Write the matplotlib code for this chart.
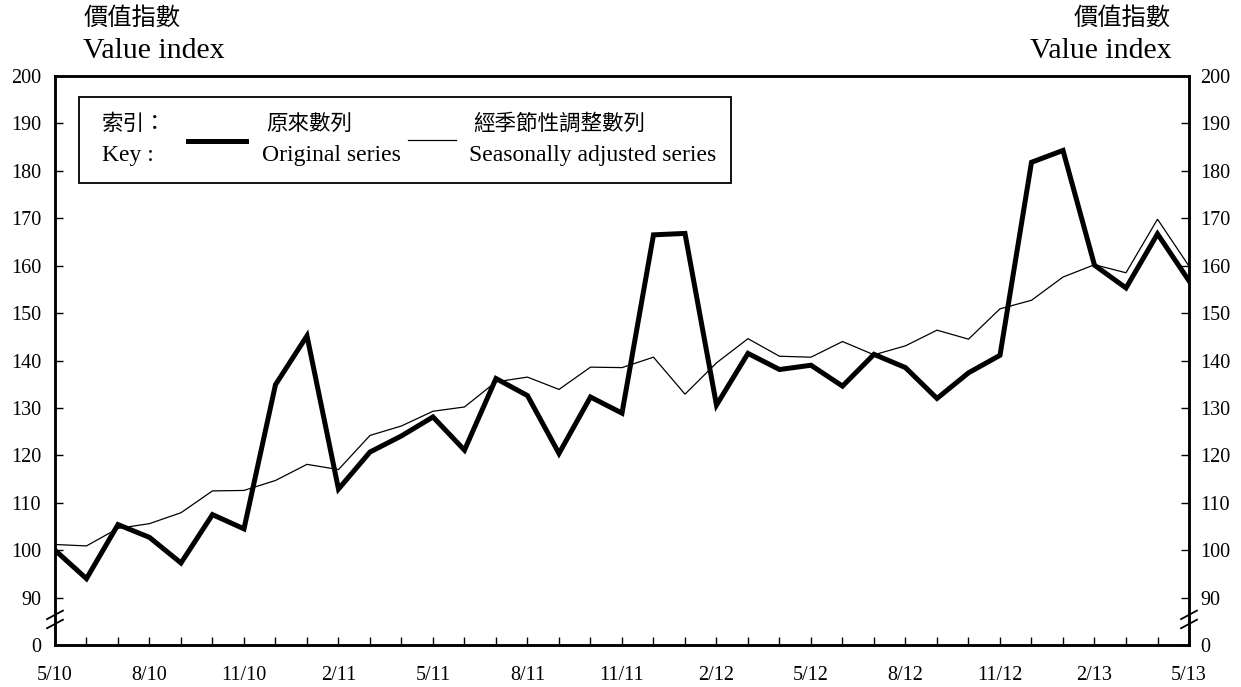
import numpy as np
import matplotlib
matplotlib.use("Agg")
import matplotlib.pyplot as plt
from matplotlib.lines import Line2D
from matplotlib.patches import Rectangle

# data: monthly value index, 5/2010 to 5/2013
months = ["5/10", "6/10", "7/10", "8/10", "9/10", "10/10", "11/10", "12/10", "1/11",
          "2/11", "3/11", "4/11", "5/11", "6/11", "7/11", "8/11", "9/11", "10/11",
          "11/11", "12/11", "1/12", "2/12", "3/12", "4/12", "5/12", "6/12", "7/12",
          "8/12", "9/12", "10/12", "11/12", "12/12", "1/13", "2/13", "3/13", "4/13", "5/13"]
original = [100.0, 94.0, 105.4, 102.7, 97.3, 107.5, 104.5, 134.9, 145.2, 112.9,
            120.7, 124.1, 128.1, 121.1, 136.2, 132.6, 120.4, 132.3, 128.9, 166.5,
            166.8, 130.6, 141.5, 138.1, 139.0, 134.6, 141.3, 138.5, 132.0, 137.4,
            141.1, 181.8, 184.3, 160.1, 155.3, 166.7, 156.8]
adjusted = [101.2, 100.9, 104.6, 105.6, 107.9, 112.5, 112.6, 114.7, 118.1, 117.0,
            124.2, 126.2, 129.3, 130.2, 135.5, 136.5, 133.9, 138.6, 138.5, 140.7,
            132.9, 139.5, 144.6, 140.9, 140.7, 144.0, 141.2, 143.1, 146.4, 144.5,
            150.9, 152.7, 157.6, 160.2, 158.5, 169.8, 159.9]
yticks = [80, 90, 100, 110, 120, 130, 140, 150, 160, 170, 180, 190, 200]
ylabels = ["0", "90", "100", "110", "120", "130", "140", "150", "160", "170", "180", "190", "200"]

serif = ["Liberation Serif", "DejaVu Serif"]
cjk = ["Noto Sans CJK TC", "DejaVu Sans"]

fig = plt.figure(figsize=(12.41, 6.87), dpi=100)
ax = fig.add_axes([0.0443, 0.0611, 0.9138, 0.8283])
x = np.arange(len(months))

ax.plot(x, adjusted, color="black", lw=0.9, solid_joinstyle="miter")
ax.plot(x, original, color="black", lw=3.6, solid_joinstyle="miter")

ax.set_xlim(0, len(months) - 1)
ax.set_ylim(80, 200)
for s in ax.spines.values():
    s.set_linewidth(1.8)

ax.set_xticks(x)
ax.set_xticklabels([m if i % 3 == 0 else "" for i, m in enumerate(months)],
                   family=serif, fontsize=14.5)
ax.set_yticks(yticks)
ax.set_yticklabels(ylabels, family=serif, fontsize=14.5)
ax.tick_params(axis="both", direction="in", length=6, width=1.0)
ax.tick_params(axis="x", pad=15)
ax.tick_params(axis="y", pad=10)

ax2 = ax.twinx()
ax2.set_ylim(80, 200)
ax2.set_yticks(yticks)
ax2.set_yticklabels(ylabels, family=serif, fontsize=14.5)
ax2.tick_params(axis="y", direction="in", length=6, width=1.0, pad=8)
for s in ax2.spines.values():
    s.set_linewidth(1.8)

# axis break marks between 0 and 90
for xb in (0.0, 1.0):
    for yc in (0.053, 0.037):
        ax.plot([xb - 0.007, xb + 0.007], [yc - 0.0075, yc + 0.0075],
                transform=ax.transAxes, color="black", lw=1.3, clip_on=False)

# axis titles
fig.text(83 / 1241, 1 - 18 / 687, "價值指數", family=cjk, fontsize=17.5, va="center", ha="left")
fig.text(83 / 1241, 1 - 51 / 687, "Value index", family=serif, fontsize=21.5, va="center", ha="left")
fig.text(1171 / 1241, 1 - 18 / 687, "價值指數", family=cjk, fontsize=17.5, va="center", ha="right")
fig.text(1172 / 1241, 1 - 51 / 687, "Value index", family=serif, fontsize=21.5, va="center", ha="right")

# key box
fig.patches.append(Rectangle((79 / 1241, 1 - 183 / 687), (731 - 79) / 1241, (183 - 97) / 687,
                             transform=fig.transFigure, fill=True, facecolor="white",
                             edgecolor="black", lw=1.3, zorder=5))
fig.lines.append(Line2D([188 / 1241, 246 / 1241], [1 - 141 / 687] * 2, transform=fig.transFigure,
                        color="black", lw=3.6, zorder=6))
fig.lines.append(Line2D([408 / 1241, 456 / 1241], [1 - 140 / 687] * 2, transform=fig.transFigure,
                        color="black", lw=0.9, zorder=6))
fig.text(102 / 1241, 1 - 124 / 687, "索引：", family=cjk, fontsize=15.5, va="center", zorder=7)
fig.text(102 / 1241, 1 - 155 / 687, "Key :", family=serif, fontsize=17, va="center", zorder=7)
fig.text(266 / 1241, 1 - 124 / 687, "原來數列", family=cjk, fontsize=15.5, va="center", zorder=7)
fig.text(262 / 1241, 1 - 155 / 687, "Original series", family=serif, fontsize=17, va="center", zorder=7)
fig.text(473 / 1241, 1 - 124 / 687, "經季節性調整數列", family=cjk, fontsize=15.5, va="center", zorder=7)
fig.text(469 / 1241, 1 - 155 / 687, "Seasonally adjusted series", family=serif, fontsize=17,
         va="center", zorder=7)

fig.savefig("out.png", dpi=100)
